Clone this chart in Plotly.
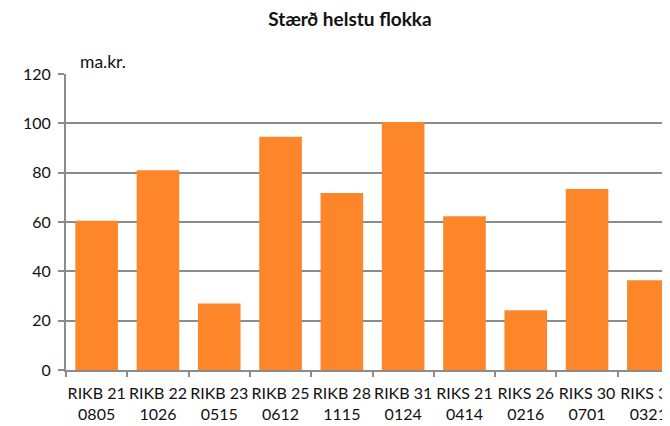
import plotly.graph_objects as go

categories = ["RIKB 21<br>0805", "RIKB 22<br>1026", "RIKB 23<br>0515", "RIKB 25<br>0612",
              "RIKB 28<br>1115", "RIKB 31<br>0124", "RIKS 21<br>0414", "RIKS 26<br>0216",
              "RIKS 30<br>0701", "RIKS 33<br>0321"]
values = [60.5, 81, 27, 94.6, 71.8, 100.5, 62.3, 24.2, 73.4, 36.4]
y_ticks = [0, 20, 40, 60, 80, 100, 120]

FONT = "Lato, 'Open Sans', sans-serif"
GRID = "#8c8c8c"
W, H = 662, 418  # page has an 8px body margin

fig = go.Figure(go.Bar(
    x=categories, y=values,
    marker=dict(color="#FD862B", line=dict(width=0)),
    width=0.695,
))

fig.update_layout(
    width=W, height=H,
    margin=dict(l=58, r=0, t=66, b=56, autoexpand=False),
    paper_bgcolor="white", plot_bgcolor="white",
    showlegend=False,
    font=dict(family=FONT, size=16, color="#111111"),
    title=dict(text="<b>Stærð helstu flokka</b>", x=342/W, xref="container", xanchor="center",
               y=1 - 11/H, yref="container", yanchor="middle",
               font=dict(family=FONT, size=19, color="#111111")),
    xaxis=dict(range=[-0.5, 9.353], showgrid=False, tickson="boundaries",
               ticks="outside", ticklen=5, tickcolor=GRID, tickwidth=2,
               showline=True, linecolor=GRID, linewidth=2,
               tickangle=0, automargin=False,
               ticklabelstandoff=8,
               tickfont=dict(size=16), fixedrange=True),
    yaxis=dict(range=[0, 120], tickvals=y_ticks, showgrid=True, gridcolor=GRID, gridwidth=2,
               ticks="outside", ticklen=6, tickcolor=GRID, tickwidth=2,
               showline=True, linecolor=GRID, linewidth=2, zeroline=False,
               automargin=False, ticklabelstandoff=4,
               tickfont=dict(size=16), fixedrange=True),
    annotations=[dict(text="ma.kr.", xref="paper", yref="paper", x=12/604, y=1 + 12/296,
                      xanchor="left", yanchor="middle", showarrow=False,
                      font=dict(family=FONT, size=17.5, color="#111111"))],
)

fig.write_html("out.html", config={"displayModeBar": False})
